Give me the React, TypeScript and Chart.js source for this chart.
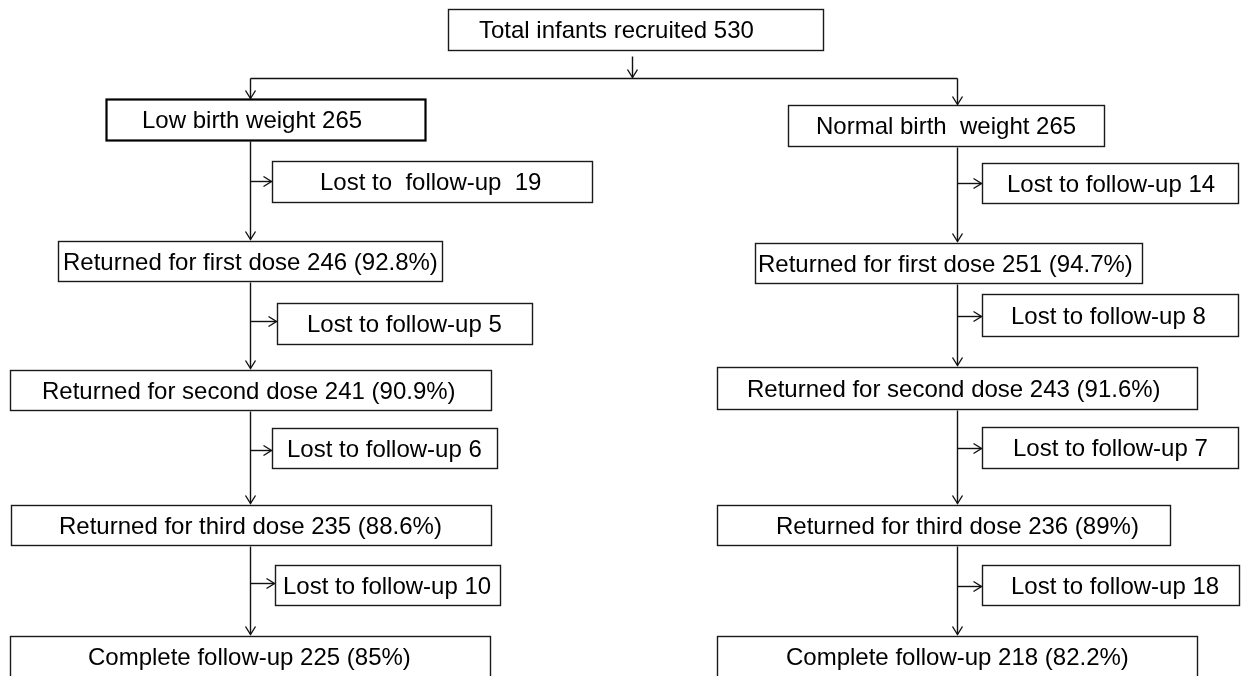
import React, { useEffect, useRef } from "react";
import { Chart, registerables } from "chart.js";

Chart.register(...registerables);

// ---------- data ----------
const TOTAL_RECRUITED = 530;
const GROUP_NAMES = ["Low birth weight", "Normal birth  weight"];
const GROUP_N = [265, 265];
const DOSE_NAMES = ["first", "second", "third"];
const LBW_RETURNED = [246, 241, 235];
const LBW_RETURNED_PCT = ["92.8", "90.9", "88.6"];
const NBW_RETURNED = [251, 243, 236];
const NBW_RETURNED_PCT = ["94.7", "91.6", "89"];
const LBW_LOST = [19, 5, 6, 10];
const NBW_LOST = [14, 8, 7, 18];
const COMPLETE_N = [225, 218];
const COMPLETE_PCT = ["85", "82.2"];

// ---------- layout (diagram units, mapped via chart scales) ----------
const W = 1248;
const H = 676;
const SPINE_X = [250, 957];
// [left, right, top, bottom, textLeft]
const TOP_BOX = [448, 823, 9, 50, 479];
const GROUP_BOX = [
  [106, 425, 99, 140, 142],
  [788, 1104, 105, 146, 816],
];
const LOST_BOX = [
  [
    [272, 592, 161, 202, 320],
    [277, 532, 303, 344, 307],
    [272, 497, 428, 468, 287],
    [275, 500, 565, 605, 283],
  ],
  [
    [982, 1238, 163, 203, 1007],
    [982, 1238, 294, 336, 1011],
    [982, 1238, 427, 468, 1013],
    [982, 1239, 565, 605, 1011],
  ],
];
const LOST_ARROW_Y = [
  [181, 321, 450, 583],
  [183, 316, 448, 586],
];
const RET_BOX = [
  [
    [58, 442, 241, 281, 63],
    [10, 491, 370, 410, 42],
    [11, 491, 505, 545, 59],
  ],
  [
    [755, 1142, 243, 283, 758],
    [717, 1197, 367, 409, 747],
    [717, 1170, 505, 545, 776],
  ],
];
const COMPLETE_BOX = [
  [10, 490, 636, 700, 88],
  [717, 1197, 636, 700, 786],
];
const COMPLETE_TEXT_Y = 656;
const SPLIT_Y = 78;

function lostLabel(side: number, i: number, n: number) {
  if (side === 0 && i === 0) return `Lost to  follow-up  ${n}`;
  return `Lost to follow-up ${n}`;
}

export default function App() {
  const ref = useRef<HTMLCanvasElement | null>(null);

  useEffect(() => {
    if (!ref.current) return;

    const boxes: { b: number[]; text: string; thick?: boolean; ty?: number }[] = [];
    boxes.push({ b: TOP_BOX, text: `Total infants recruited ${TOTAL_RECRUITED}` });
    const returned = [LBW_RETURNED, NBW_RETURNED];
    const returnedPct = [LBW_RETURNED_PCT, NBW_RETURNED_PCT];
    const lost = [LBW_LOST, NBW_LOST];
    for (let s = 0; s < 2; s++) {
      boxes.push({ b: GROUP_BOX[s], text: `${GROUP_NAMES[s]} ${GROUP_N[s]}`, thick: s === 0 });
      for (let i = 0; i < 3; i++) {
        boxes.push({
          b: RET_BOX[s][i],
          text: `Returned for ${DOSE_NAMES[i]} dose ${returned[s][i]} (${returnedPct[s][i]}%)`,
        });
      }
      for (let i = 0; i < 4; i++) {
        boxes.push({ b: LOST_BOX[s][i], text: lostLabel(s, i, lost[s][i]) });
      }
      boxes.push({
        b: COMPLETE_BOX[s],
        text: `Complete follow-up ${COMPLETE_N[s]} (${COMPLETE_PCT[s]}%)`,
        ty: COMPLETE_TEXT_Y,
      });
    }

    const flowPlugin = {
      id: "flow",
      afterDraw(chart: any) {
        const ctx: CanvasRenderingContext2D = chart.ctx;
        const sx = chart.scales.x;
        const sy = chart.scales.y;
        const X = (v: number) => sx.getPixelForValue(v);
        const Y = (v: number) => sy.getPixelForValue(v);
        ctx.save();
        ctx.fillStyle = "#ffffff";
        ctx.fillRect(0, 0, chart.width, chart.height);

        const line = (x1: number, y1: number, x2: number, y2: number) => {
          ctx.beginPath();
          ctx.moveTo(Math.round(X(x1)) + 0.5, Math.round(Y(y1)) + 0.5);
          ctx.lineTo(Math.round(X(x2)) + 0.5, Math.round(Y(y2)) + 0.5);
          ctx.stroke();
        };
        const head = (x: number, y: number, dir: "down" | "right") => {
          const px = Math.round(X(x)) + 0.5;
          const py = Math.round(Y(y)) + 0.5;
          ctx.beginPath();
          if (dir === "down") {
            ctx.moveTo(px - 5, py - 8);
            ctx.lineTo(px, py);
            ctx.lineTo(px + 5, py - 8);
          } else {
            ctx.moveTo(px - 8, py - 5);
            ctx.lineTo(px, py);
            ctx.lineTo(px - 8, py + 5);
          }
          ctx.stroke();
        };

        ctx.strokeStyle = "#111111";
        ctx.lineWidth = 1.4;

        // top connector
        const topCx = 632;
        line(topCx, 56, topCx, 77);
        head(topCx, 77, "down");
        line(SPINE_X[0], SPLIT_Y, SPINE_X[1], SPLIT_Y);
        for (let s = 0; s < 2; s++) {
          const gx = SPINE_X[s];
          line(gx, SPLIT_Y, gx, GROUP_BOX[s][2] - 1);
          head(gx, GROUP_BOX[s][2] - 1, "down");
          const tops = [RET_BOX[s][0][2], RET_BOX[s][1][2], RET_BOX[s][2][2], COMPLETE_BOX[s][2]];
          const bottoms = [GROUP_BOX[s][3], RET_BOX[s][0][3], RET_BOX[s][1][3], RET_BOX[s][2][3]];
          for (let i = 0; i < 4; i++) {
            line(gx, bottoms[i] + 1, gx, tops[i] - 2);
            head(gx, tops[i] - 2, "down");
            const ay = LOST_ARROW_Y[s][i];
            const lx = LOST_BOX[s][i][0];
            line(gx, ay, lx - 1, ay);
            head(lx - 1, ay, "right");
          }
        }

        // boxes
        ctx.font = "24px 'Liberation Sans', Arial, sans-serif";
        ctx.textBaseline = "alphabetic";
        ctx.textAlign = "left";
        for (const bx of boxes) {
          const [l, r, t, b, tx] = bx.b;
          const x1 = Math.round(X(l)) + 0.5;
          const x2 = Math.round(X(r)) + 0.5;
          const y1 = Math.round(Y(t)) + 0.5;
          const y2 = Math.round(Y(b)) + 0.5;
          ctx.fillStyle = "#ffffff";
          ctx.fillRect(x1, y1, x2 - x1, y2 - y1);
          ctx.strokeStyle = bx.thick ? "#000000" : "#1a1a1a";
          ctx.lineWidth = bx.thick ? 2.2 : 1.4;
          ctx.strokeRect(x1, y1, x2 - x1, y2 - y1);
          ctx.fillStyle = "#000000";
          const cy = bx.ty !== undefined ? Y(bx.ty) : (Y(t) + Y(b)) / 2;
          ctx.fillText(bx.text, X(tx), cy + 8.6);
        }
        ctx.restore();
      },
    };

    const chart = new Chart(ref.current, {
      type: "scatter",
      data: {
        datasets: [
          {
            data: boxes.map((bx) => ({ x: (bx.b[0] + bx.b[1]) / 2, y: (bx.b[2] + bx.b[3]) / 2 })),
            pointRadius: 0,
            pointHoverRadius: 0,
          },
        ],
      },
      options: {
        animation: false,
        responsive: false,
        devicePixelRatio: 1,
        layout: { padding: 0 },
        events: [],
        plugins: { legend: { display: false }, tooltip: { enabled: false } },
        scales: {
          x: { type: "linear", min: 0, max: W, display: false },
          y: { type: "linear", min: 0, max: H, reverse: true, display: false },
        },
      },
      plugins: [flowPlugin],
    });
    return () => chart.destroy();
  }, []);

  return (
    <div style={{ position: "absolute", left: 0, top: 0, width: W, height: H, background: "#fff" }}>
      <canvas ref={ref} width={W} height={H} style={{ display: "block" }} />
    </div>
  );
}
